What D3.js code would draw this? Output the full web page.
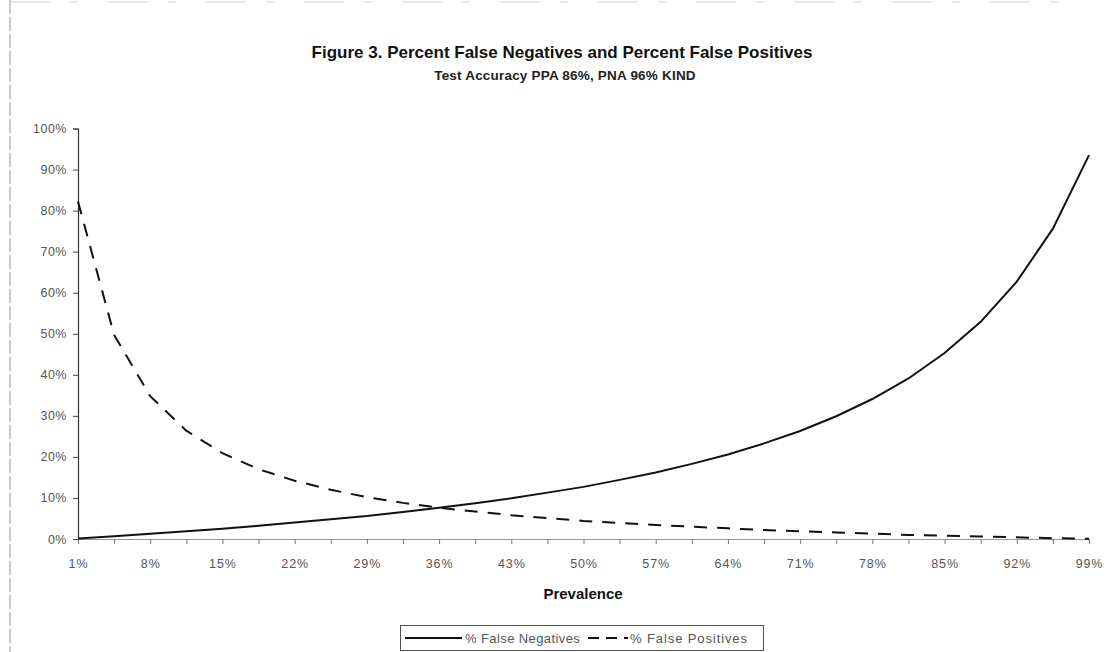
<!DOCTYPE html>
<html>
<head>
<meta charset="utf-8">
<script src="https://cdn.jsdelivr.net/npm/d3@7"></script>
<style>
  html, body { margin: 0; padding: 0; background: #fff; }
  svg { display: block; font-family: "Liberation Sans", Arial, sans-serif; }
</style>
</head>
<body>
<svg id="chart" width="1107" height="652"></svg>
<script>
// ---- data ----
const prevalence = [1, 4.5, 8, 11.5, 15, 18.5, 22, 25.5, 29, 32.5, 36, 39.5, 43, 46.5, 50,
  53.5, 57, 60.5, 64, 67.5, 71, 74.5, 78, 81.5, 85, 88.5, 92, 95.5, 99];
const falseNegatives = [0.15, 0.7, 1.3, 1.9, 2.5, 3.2, 4.0, 4.8, 5.6, 6.6, 7.6, 8.7, 9.9, 11.3, 12.7,
  14.4, 16.2, 18.3, 20.6, 23.3, 26.3, 29.9, 34.1, 39.1, 45.3, 52.9, 62.7, 75.6, 93.5];
const falsePositives = [82.2, 49.7, 34.8, 26.4, 20.9, 17.0, 14.2, 12.0, 10.2, 8.8, 7.6, 6.7, 5.8, 5.1, 4.4,
  3.9, 3.4, 3.0, 2.6, 2.2, 1.9, 1.6, 1.3, 1.0, 0.8, 0.6, 0.4, 0.2, 0.05];
const yTicks = [0, 10, 20, 30, 40, 50, 60, 70, 80, 90, 100];
const xLabelEvery = 2;
const title = "Figure 3. Percent False Negatives and Percent False Positives";
const subtitle = "Test Accuracy PPA 86%, PNA 96% KIND";
const xTitle = "Prevalence";
const seriesNames = ["% False Negatives", "% False Positives"];

const svg = d3.select("#chart");

const x = d3.scalePoint().domain(prevalence.map(String)).range([78, 1089]);
const y = d3.scaleLinear().domain([0, 100]).range([539, 128.5]);

// scan-like faint borders
svg.append("line").attr("x1", 10).attr("x2", 10).attr("y1", 0).attr("y2", 652)
  .attr("stroke", "#bbb").attr("stroke-width", 1.5).attr("stroke-dasharray", "14,3");
svg.append("line").attr("x1", 10).attr("x2", 1060).attr("y1", 2).attr("y2", 2)
  .attr("stroke", "#ccc").attr("stroke-width", 1).attr("stroke-dasharray", "40,20,8,30");

// title
svg.append("text").attr("x", 562).attr("y", 58).attr("text-anchor", "middle")
  .attr("font-size", 17).attr("font-weight", "bold").attr("fill", "#111").text(title);
svg.append("text").attr("x", 565).attr("y", 80).attr("text-anchor", "middle")
  .attr("font-size", 13.5).attr("font-weight", "bold").attr("letter-spacing", 0.2)
  .attr("fill", "#222").text(subtitle);

// y axis
const yAxis = d3.axisLeft(y).tickValues(yTicks).tickSize(5).tickPadding(6).tickFormat(d => d + "%");
const gy = svg.append("g").attr("transform", "translate(78,0)").call(yAxis);
gy.select(".domain").attr("stroke", "#333").attr("stroke-width", 1.2);
gy.selectAll(".tick line").attr("stroke", "#444");
gy.selectAll(".tick text").attr("font-size", 12.5).attr("fill", "#555")
  .attr("letter-spacing", 0.5).attr("font-family", "Liberation Sans, Arial, sans-serif");

// x axis
const xAxis = d3.axisBottom(x).tickSize(5).tickPadding(15)
  .tickFormat((d, i) => i % xLabelEvery === 0 ? d + "%" : "");
const gx = svg.append("g").attr("transform", "translate(0,539)").call(xAxis);
gx.select(".domain").attr("stroke", "#999").attr("stroke-width", 1);
gx.selectAll(".tick line").attr("stroke", "#777");
gx.selectAll(".tick text").attr("font-size", 12.5).attr("fill", "#555")
  .attr("letter-spacing", 0.9).attr("font-family", "Liberation Sans, Arial, sans-serif");

svg.append("text").attr("x", 583).attr("y", 599).attr("text-anchor", "middle")
  .attr("font-size", 15).attr("font-weight", "bold").attr("fill", "#111").text(xTitle);

// lines
const line = vals => d3.line().x((d, i) => x(String(prevalence[i]))).y(d => y(d))(vals);
svg.append("path").attr("d", line(falseNegatives)).attr("fill", "none")
  .attr("stroke", "#111").attr("stroke-width", 2);
svg.append("path").attr("d", line(falsePositives)).attr("fill", "none")
  .attr("stroke", "#111").attr("stroke-width", 2).attr("stroke-dasharray", "13,10");

// legend
const lg = svg.append("g");
lg.append("rect").attr("x", 400.5).attr("y", 625.5).attr("width", 363).attr("height", 25)
  .attr("fill", "#fff").attr("stroke", "#555").attr("stroke-width", 1);
lg.append("line").attr("x1", 405).attr("x2", 462).attr("y1", 638).attr("y2", 638)
  .attr("stroke", "#111").attr("stroke-width", 2);
lg.append("text").attr("x", 465).attr("y", 643).attr("font-size", 13).attr("letter-spacing", 0.4)
  .attr("fill", "#555").text(seriesNames[0]);
lg.append("line").attr("x1", 588).attr("x2", 628).attr("y1", 638).attr("y2", 638)
  .attr("stroke", "#111").attr("stroke-width", 2).attr("stroke-dasharray", "11,7");
lg.append("text").attr("x", 630).attr("y", 643).attr("font-size", 13).attr("letter-spacing", 0.9)
  .attr("fill", "#555").text(seriesNames[1]);
</script>
</body>
</html>
